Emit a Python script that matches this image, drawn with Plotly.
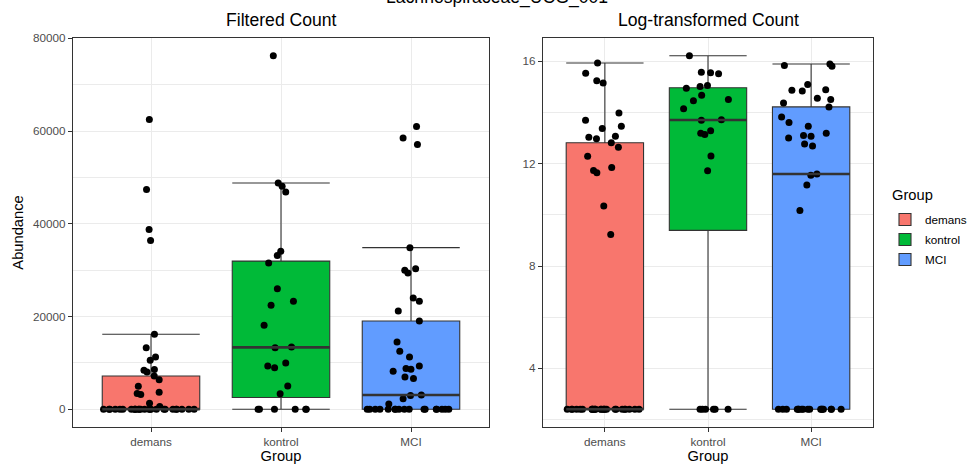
import numpy as np
import plotly.graph_objects as go

# ---------------- data ----------------
groups = ["demans", "kontrol", "MCI"]
fill_colors = ["#F8766D", "#00BA38", "#619CFF"]

demans_counts = [62500, 47400, 38800, 36400, 16200, 13300, 11300, 10600, 8600, 8400,
                 8050, 7200, 6400, 5000, 3700, 3400, 3200, 1300, 600] + [0] * 26
kontrol_counts = [76270, 48800, 48090, 46860, 34070, 33200, 31550, 26030, 23290, 22430,
                  18110, 13440, 13300, 9980, 9340, 8990, 5030, 3380] + [0] * 6
mci_counts = [61000, 58500, 57140, 34870, 30340, 29970, 29400, 24000, 23290, 21200,
              19040, 14510, 12510, 11280, 9340, 8780, 8620, 8190, 6970, 6620,
              3100, 3000, 2300, 1150] + [0] * 17

# value given to zero counts after log transform
log_zero_value = 2.4

main_title = "Lachnospiraceae_UCG_001"
panel_titles = ["Filtered Count", "Log-transformed Count"]
y_title = "Abundance"
x_title = "Group"
legend_title = "Group"

# ---------------- helpers ----------------
filtered = [np.asarray(v, float) for v in (demans_counts, kontrol_counts, mci_counts)]
logged = [np.where(v > 0, np.log2(np.where(v > 0, v, 1)), log_zero_value) for v in filtered]


def box_stats(v):
    v = np.sort(v)
    q1, med, q3 = np.percentile(v, [25, 50, 75])
    iqr = q3 - q1
    lo = v[v >= q1 - 1.5 * iqr].min()
    hi = v[v <= q3 + 1.5 * iqr].max()
    return q1, med, q3, lo, hi


def expanded_range(datasets):
    allv = np.concatenate(datasets)
    lo, hi = allv.min(), allv.max()
    pad = 0.05 * (hi - lo)
    return [lo - pad, hi + pad]


W, H = 975, 470
FONT = "Liberation Sans"
GRID = "#EBEBEB"
DARK = "#333333"
TICKC = "#4D4D4D"
BOXW = 0.75

fig = go.Figure()

panels = [(filtered, "x", "y", True), (logged, "x2", "y2", False)]
for data, xa, ya, show_leg in panels:
    # boxes
    for i, (g, c, v) in enumerate(zip(groups, fill_colors, data)):
        q1, med, q3, lo, hi = box_stats(v)
        fig.add_trace(go.Box(
            x=[i + 1], q1=[q1], median=[med], q3=[q3], lowerfence=[lo], upperfence=[hi],
            width=BOXW, whiskerwidth=1, fillcolor=c,
            line=dict(color=DARK, width=1.1), boxpoints=False,
            name=g, legendgroup=g, showlegend=show_leg,
            xaxis=xa, yaxis=ya, hoverinfo="skip"))
    # thick medians
    for i, v in enumerate(data):
        q1, med, q3, lo, hi = box_stats(v)
        fig.add_trace(go.Scatter(
            x=[i + 1 - BOXW / 2, i + 1 + BOXW / 2], y=[med, med], mode="lines",
            line=dict(color=DARK, width=2.6), showlegend=False,
            xaxis=xa, yaxis=ya, hoverinfo="skip"))
    # jittered points
    for i, (g, v) in enumerate(zip(groups, data)):
        fig.add_trace(go.Box(
            x=[i + 1] * len(v), y=v, width=BOXW, boxpoints="all", jitter=1, pointpos=0,
            fillcolor="rgba(0,0,0,0)", line=dict(color="rgba(0,0,0,0)", width=0),
            marker=dict(color="black", size=7, line=dict(width=0)),
            showlegend=False, xaxis=xa, yaxis=ya, hoverinfo="skip"))

x_common = dict(range=[0.4, 3.6], tickmode="array", tickvals=[1, 2, 3], ticktext=groups,
                showgrid=True, gridcolor=GRID, gridwidth=1.07, zeroline=False,
                ticks="outside", ticklen=4, tickwidth=1.07, tickcolor=DARK,
                showline=True, mirror=True, linecolor=DARK, linewidth=1.07,
                automargin=False,
                tickfont=dict(family=FONT, size=11.7, color=TICKC),
                title=dict(text=x_title, font=dict(family=FONT, size=14.7, color="black"), standoff=3))
y_common = dict(showgrid=True, gridcolor=GRID, gridwidth=1.07, zeroline=False,
                ticks="outside", ticklen=4, tickwidth=1.07, tickcolor=DARK,
                showline=True, mirror=True, linecolor=DARK, linewidth=1.07,
                automargin=False,
                tickfont=dict(family=FONT, size=11.7, color=TICKC))

ydom = [1 - 427 / H, 1 - 38 / H]

fig.update_layout(
    width=W, height=H, margin=dict(l=0, r=0, t=0, b=0, autoexpand=False),
    paper_bgcolor="white", plot_bgcolor="white",
    boxmode="overlay", font=dict(family=FONT),
    xaxis=dict(domain=[73 / W, 489 / W], anchor="y", **x_common),
    yaxis=dict(domain=ydom, anchor="x", range=expanded_range(filtered),
               tickmode="linear", tick0=0, dtick=20000, tickformat="d",
               minor=dict(dtick=10000, tick0=0, showgrid=True, gridcolor=GRID, gridwidth=0.53),
               title=dict(text=y_title, font=dict(family=FONT, size=14.7, color="black"), standoff=5),
               **y_common),
    xaxis2=dict(domain=[543 / W, 873 / W], anchor="y2", **x_common),
    yaxis2=dict(domain=ydom, anchor="x2", range=expanded_range(logged),
                tickmode="linear", tick0=0, dtick=4,
                minor=dict(dtick=2, tick0=0, showgrid=True, gridcolor=GRID, gridwidth=0.53),
                **y_common),
    legend=dict(x=885 / W, y=1 - 205 / H, xanchor="left", yanchor="top",
                font=dict(family=FONT, size=11.7, color="black"), tracegroupgap=1,
                bgcolor="rgba(0,0,0,0)"),
    showlegend=True,
)

annotations = [
    dict(text=main_title, x=497 / W, y=1 - 10 / H, xref="paper", yref="paper",
         xanchor="center", yanchor="bottom", showarrow=False,
         font=dict(family=FONT, size=17.6, color="black")),
    dict(text=panel_titles[0], x=(73 + 489) / 2 / W, y=1 - 20 / H, xref="paper", yref="paper",
         xanchor="center", yanchor="middle", showarrow=False,
         font=dict(family=FONT, size=17.6, color="black")),
    dict(text=panel_titles[1], x=(543 + 873) / 2 / W, y=1 - 20 / H, xref="paper", yref="paper",
         xanchor="center", yanchor="middle", showarrow=False,
         font=dict(family=FONT, size=17.6, color="black")),
    dict(text=legend_title, x=890 / W, y=1 - 195 / H, xref="paper", yref="paper",
         xanchor="left", yanchor="middle", showarrow=False,
         font=dict(family=FONT, size=14.7, color="black")),
]
fig.update_layout(annotations=annotations)

fig.write_html("out.html")
